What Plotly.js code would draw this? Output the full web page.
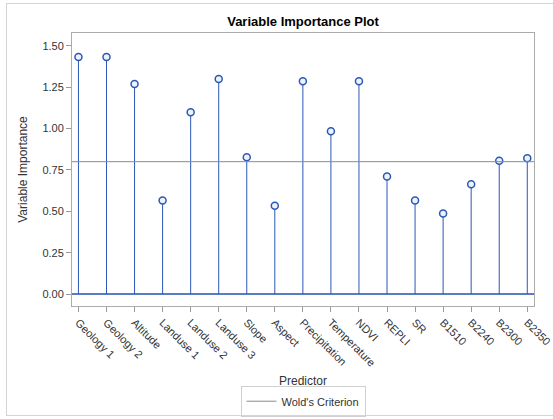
<!DOCTYPE html>
<html>
<head>
<meta charset="utf-8">
<script src="https://cdn.plot.ly/plotly-3.0.1.min.js"></script>
<style>
  html, body { margin: 0; padding: 0; background: #fff; }
  #wrap { position: relative; width: 553px; height: 419px; overflow: hidden; }
  #frame { position: absolute; left: 6px; top: 3px; width: 560px; height: 413px; border: 1px solid #d4d4d4; box-sizing: border-box; pointer-events: none; }
  #chart { position: absolute; left: 0; top: 0; width: 553px; height: 419px; }
</style>
</head>
<body>
<div id="wrap">
  <div id="chart"></div>
  <div id="frame"></div>
</div>
<script>
const predictors = ["Geology 1", "Geology 2", "Altitude", "Landuse 1", "Landuse 2", "Landuse 3", "Slope", "Aspect", "Precipitation", "Temperature", "NDVI", "REPLI", "SR", "B1510", "B2240", "B2300", "B2350"];
const importance = [1.433, 1.433, 1.270, 0.566, 1.099, 1.300, 0.827, 0.533, 1.286, 0.984, 1.286, 0.711, 0.566, 0.487, 0.664, 0.805, 0.821];
const woldCriterion = 0.8;
const yTickVals = [0, 0.25, 0.5, 0.75, 1.0, 1.25, 1.5];
const yTickText = ["0.00", "0.25", "0.50", "0.75", "1.00", "1.25", "1.50"];

const blue = "#2b58b6";

// Stems built from the data arrays
const stemX = [], stemY = [];
predictors.forEach((p, i) => { stemX.push(p, p, null); stemY.push(0, importance[i], null); });

const traces = [
  {
    x: stemX, y: stemY, type: "scatter", mode: "lines",
    line: { color: blue, width: 1 }, showlegend: false, hoverinfo: "skip"
  },
  {
    x: predictors, y: importance, type: "scatter", mode: "markers",
    marker: { symbol: "circle", size: 7, color: "#eef2fb", line: { color: blue, width: 1.5 } },
    showlegend: false
  },
  {
    x: [0, 1], y: [woldCriterion, woldCriterion], xaxis: "x2", yaxis: "y",
    type: "scatter", mode: "lines", name: "Wold's Criterion",
    line: { color: "#8c8c8c", width: 1 }, showlegend: true
  }
];

const layout = {
  width: 553, height: 419,
  margin: { l: 72, r: 19, t: 33, b: 113, autoexpand: false },
  paper_bgcolor: "rgba(0,0,0,0)", plot_bgcolor: "#fff",
  font: { family: "Liberation Sans, Arial, sans-serif", size: 11, color: "#333" },
  title: { text: "<b>Variable Importance Plot</b>", font: { size: 13, color: "#000" }, x: 0.548, xanchor: "center", y: 0.95, yanchor: "middle" },
  xaxis: {
    type: "category", categoryorder: "array", categoryarray: predictors,
    range: [-0.23, 16.24], automargin: false,
    showline: true, mirror: true, linecolor: "#ababab", linewidth: 1,
    ticks: "outside", ticklen: 5, tickcolor: "#999", tickangle: 45,
    showgrid: false, zeroline: false,
    tickfont: { size: 11, color: "#333" },
    title: { text: "Predictor", font: { size: 12, color: "#333" }, standoff: 8 }
  },
  xaxis2: { overlaying: "x", range: [0, 1], visible: false, fixedrange: true },
  yaxis: {
    range: [-0.0725, 1.578], automargin: false,
    tickvals: yTickVals, ticktext: yTickText,
    showline: true, mirror: true, linecolor: "#ababab", linewidth: 1,
    ticks: "outside", ticklen: 5, tickcolor: "#999",
    showgrid: false,
    zeroline: true, zerolinecolor: "#5a7cc6", zerolinewidth: 1.5,
    tickfont: { size: 11, color: "#333" },
    title: { text: "Variable Importance", font: { size: 12, color: "#333" }, standoff: 12 }
  },
  legend: {
    orientation: "h", x: 0.5, xanchor: "center", y: -0.292, yanchor: "top",
    bordercolor: "#d0d0d0", borderwidth: 1, bgcolor: "#fff",
    font: { size: 11, color: "#333" }
  },
  showlegend: true
};

Plotly.newPlot("chart", traces, layout, { displayModeBar: false, staticPlot: true });
</script>
</body>
</html>
